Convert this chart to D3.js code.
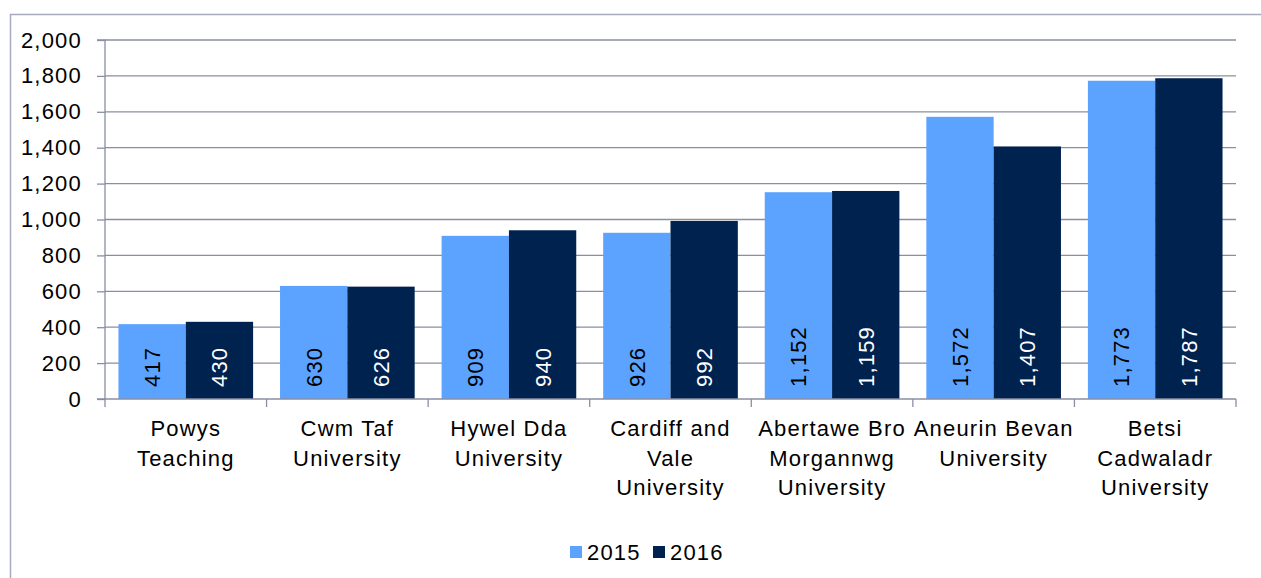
<!DOCTYPE html>
<html>
<head>
<meta charset="utf-8">
<script src="https://cdn.jsdelivr.net/npm/d3@7.9.0/dist/d3.min.js"></script>
<style>
  body { margin: 0; background: #fff; }
  svg { display: block; font-family: "Liberation Sans", Arial, sans-serif; }
  text { letter-spacing: 1.2px; }
</style>
</head>
<body>
<svg id="chart" width="1261" height="578"></svg>
<script>
const categories = ['Powys Teaching', 'Cwm Taf University', 'Hywel Dda University',
  'Cardiff and Vale University', 'Abertawe Bro Morgannwg University',
  'Aneurin Bevan University', 'Betsi Cadwaladr University'];
const catLines = [
  ['Powys', 'Teaching'],
  ['Cwm Taf', 'University'],
  ['Hywel Dda', 'University'],
  ['Cardiff and', 'Vale', 'University'],
  ['Abertawe Bro', 'Morgannwg', 'University'],
  ['Aneurin Bevan', 'University'],
  ['Betsi', 'Cadwaladr', 'University']
];
const series = ['2015', '2016'];
const values2015 = [417, 630, 909, 926, 1152, 1572, 1773];
const values2016 = [430, 626, 940, 992, 1159, 1407, 1787];
const yTicks = [0, 200, 400, 600, 800, 1000, 1200, 1400, 1600, 1800, 2000];

const colors = { '2015': '#5ba3ff', '2016': '#00224f' };
const labelColors = { '2015': '#000', '2016': '#fff' };
const gridColor = '#8a8ea2';
const fmt = d3.format(',');
const fontSize = 22;

const svg = d3.select('#chart');

// outer frame
svg.append('path')
  .attr('d', 'M10.5,578 V14.5 H1261')
  .attr('fill', 'none')
  .attr('stroke', '#a7aabd')
  .attr('stroke-width', 1.5);

const plotLeft = 105, plotRight = 1236, plotTop = 40, plotBottom = 399;

const x0 = d3.scaleBand().domain(categories).range([plotLeft, plotRight]).padding(0);
const x1 = d3.scaleBand().domain(series).range([0, x0.bandwidth()])
  .paddingInner(0).paddingOuter(0.2);
const y = d3.scaleLinear().domain([0, 2000]).range([plotBottom, plotTop]);

// gridlines
svg.append('g').selectAll('line')
  .data(yTicks.filter(d => d > 0))
  .join('line')
  .attr('x1', plotLeft).attr('x2', plotRight)
  .attr('y1', d => y(d)).attr('y2', d => y(d))
  .attr('stroke', gridColor).attr('stroke-width', 1.3);

// bars
const rows = categories.map((c, i) => ({ cat: c, vals: [
  { s: '2015', v: values2015[i] }, { s: '2016', v: values2016[i] }] }));

const groups = svg.append('g').selectAll('g')
  .data(rows)
  .join('g')
  .attr('transform', d => `translate(${x0(d.cat)},0)`);

groups.selectAll('rect')
  .data(d => d.vals)
  .join('rect')
  .attr('x', d => x1(d.s))
  .attr('width', x1.bandwidth())
  .attr('y', d => y(d.v))
  .attr('height', d => y(0) - y(d.v))
  .attr('fill', d => colors[d.s]);

groups.selectAll('text')
  .data(d => d.vals)
  .join('text')
  .attr('transform', d => `translate(${x1(d.s) + x1.bandwidth() / 2},${plotBottom - 12}) rotate(-90)`)
  .attr('dy', '0.36em')
  .attr('font-size', fontSize)
  .attr('fill', d => labelColors[d.s])
  .text(d => fmt(d.v));

// y axis
const yAxis = svg.append('g')
  .attr('transform', `translate(${plotLeft},0)`)
  .call(d3.axisLeft(y).tickValues(yTicks).tickFormat(fmt).tickSize(8).tickPadding(15));
yAxis.select('.domain').attr('stroke', gridColor).attr('stroke-width', 1.3)
  .attr('d', `M-8,${plotTop}H0V${plotBottom}`);
yAxis.selectAll('.tick line').attr('stroke', gridColor).attr('stroke-width', 1.3);
yAxis.selectAll('.tick text').attr('font-size', fontSize).attr('fill', '#000')
  .attr('font-family', '"Liberation Sans", Arial, sans-serif');

// x axis
const xAxis = svg.append('g')
  .attr('transform', `translate(0,${plotBottom})`);
xAxis.append('line')
  .attr('x1', plotLeft - 8).attr('x2', plotRight)
  .attr('stroke', gridColor).attr('stroke-width', 1.3);
xAxis.selectAll('line.tk')
  .data(categories.map(c => x0(c)).concat([plotRight]))
  .join('line')
  .attr('class', 'tk')
  .attr('x1', d => d).attr('x2', d => d)
  .attr('y1', 0).attr('y2', 8)
  .attr('stroke', gridColor).attr('stroke-width', 1.3);

const catText = xAxis.selectAll('text.cat')
  .data(categories)
  .join('text')
  .attr('class', 'cat')
  .attr('text-anchor', 'middle')
  .attr('font-size', fontSize)
  .attr('fill', '#000');
catText.selectAll('tspan')
  .data((d, i) => catLines[i].map(l => ({ l, x: x0(d) + x0.bandwidth() / 2 })))
  .join('tspan')
  .attr('x', d => d.x)
  .attr('y', (d, i) => 37 + i * 29.5)
  .text(d => d.l);

// legend
const legend = svg.append('g');
const legendX = [570, 653];
series.forEach((s, i) => {
  legend.append('rect')
    .attr('x', legendX[i]).attr('y', 546)
    .attr('width', 12).attr('height', 12)
    .attr('fill', colors[s]);
  legend.append('text')
    .attr('x', legendX[i] + 17).attr('y', 552)
    .attr('dy', '0.36em')
    .attr('font-size', fontSize)
    .text(s);
});
</script>
</body>
</html>
